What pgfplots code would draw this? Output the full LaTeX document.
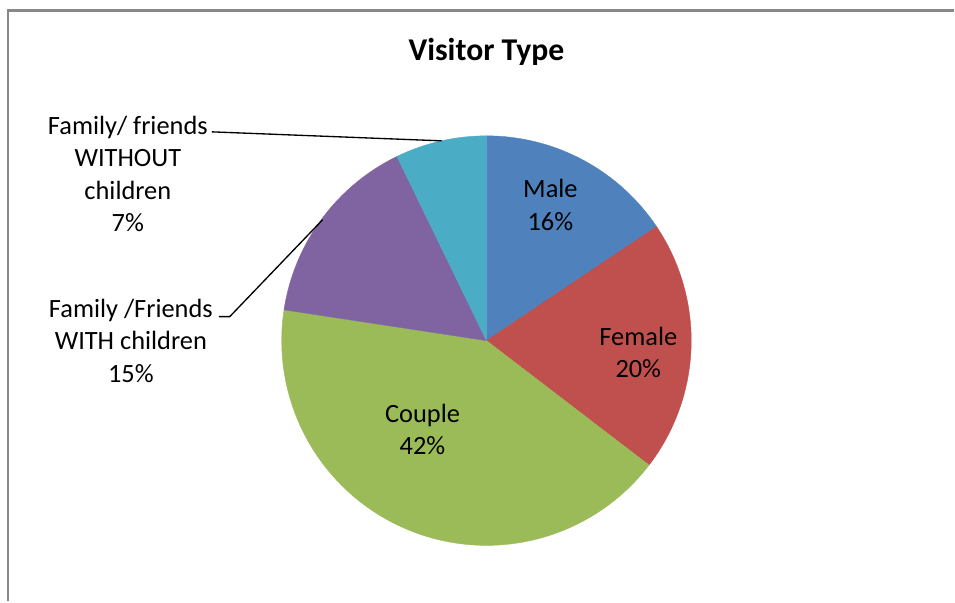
\documentclass[border=0pt]{standalone}
\usepackage{pgfplots}
\usepackage{pgfplotstable}
\pgfplotsset{compat=1.18}
\usepackage{fontspec}
\setmainfont{Carlito}
\definecolor{cMale}{HTML}{4F81BD}
\definecolor{cFemale}{HTML}{C0504D}
\definecolor{cCouple}{HTML}{9BBB59}
\definecolor{cWith}{HTML}{8064A2}
\definecolor{cWithout}{HTML}{4BACC6}
\definecolor{frame}{HTML}{888888}
\pgfplotstableread{
idx value
0 15.6
1 19.8
2 42.0
3 15.4
4 7.2
}\piedata
\begin{document}%
\begin{tikzpicture}
\pgfplotstablegetelem{0}{value}\of\piedata
\pgfmathsetmacro\aA{90-3.6*\pgfplotsretval}
\pgfplotstablegetelem{1}{value}\of\piedata
\pgfmathsetmacro\aB{\aA-3.6*\pgfplotsretval}
\pgfplotstablegetelem{2}{value}\of\piedata
\pgfmathsetmacro\aC{\aB-3.6*\pgfplotsretval}
\pgfplotstablegetelem{3}{value}\of\piedata
\pgfmathsetmacro\aD{\aC-3.6*\pgfplotsretval}
\pgfplotstablegetelem{4}{value}\of\piedata
\pgfmathsetmacro\aE{\aD-3.6*\pgfplotsretval}
\begin{axis}[
  scale only axis, width=716.25pt, height=451.5pt,
  xmin=0, xmax=955, ymin=0, ymax=602,
  hide axis, clip=false,
]
\path (axis cs:0,0) rectangle (axis cs:955,602);
\draw[frame, line width=1.6pt] (axis cs:8,0) -- (axis cs:8,591.5) -- (axis cs:955,591.5);
\addplot[fill=cMale, draw=cMale, line width=0.3pt, domain=\aA:90, samples=60, variable=\t]
  ({487+205*cos(\t)},{261+205*sin(\t)}) -- (axis cs:487,261) -- cycle;
\addplot[fill=cFemale, draw=cFemale, line width=0.3pt, domain=\aB:\aA, samples=60, variable=\t]
  ({487+205*cos(\t)},{261+205*sin(\t)}) -- (axis cs:487,261) -- cycle;
\addplot[fill=cCouple, draw=cCouple, line width=0.3pt, domain=\aC:\aB, samples=120, variable=\t]
  ({487+205*cos(\t)},{261+205*sin(\t)}) -- (axis cs:487,261) -- cycle;
\addplot[fill=cWith, draw=cWith, line width=0.3pt, domain=\aD:\aC, samples=60, variable=\t]
  ({487+205*cos(\t)},{261+205*sin(\t)}) -- (axis cs:487,261) -- cycle;
\addplot[fill=cWithout, draw=cWithout, line width=0.3pt, domain=\aE:\aD, samples=40, variable=\t]
  ({487+205*cos(\t)},{261+205*sin(\t)}) -- (axis cs:487,261) -- cycle;
\node[font=\fontsize{23.8}{28}\selectfont\bfseries] at (axis cs:487,550) {Visitor Type};
\begin{scope}[every node/.style={align=center, font=\fontsize{19.8}{24.4}\selectfont, inner sep=0pt}]
\node at (axis cs:551,397) {Male\\16\%};
\node at (axis cs:639,249) {Female\\20\%};
\node at (axis cs:423,172) {Couple\\42\%};
\node at (axis cs:128,428) {Family/ friends\\WITHOUT\\children\\7\%};
\node at (axis cs:131,261) {Family /Friends\\WITH children\\15\%};
\end{scope}
\draw[black, line width=1pt] (axis cs:212,470) -- (axis cs:442,461);
\draw[black, line width=1pt] (axis cs:219,285) -- (axis cs:230,285) -- (axis cs:323,382);
\end{axis}
\end{tikzpicture}%
\end{document}
